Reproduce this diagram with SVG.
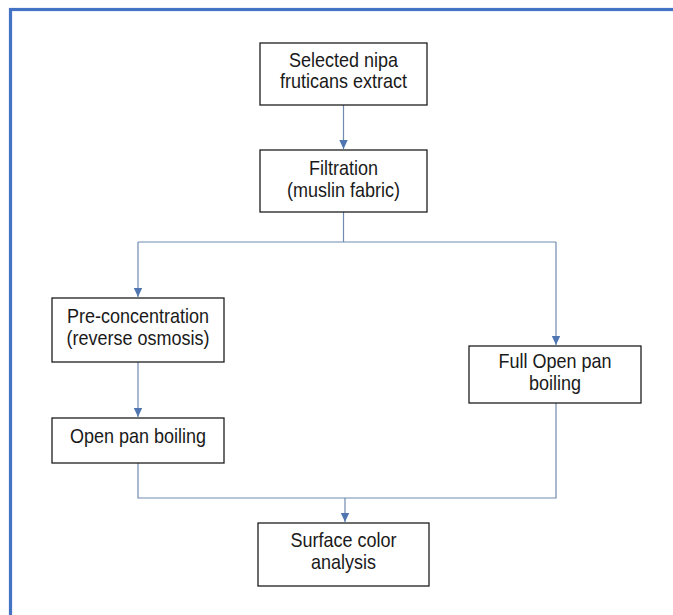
<svg xmlns="http://www.w3.org/2000/svg" width="673" height="615" viewBox="0 0 673 615">
  <style>
    .box { fill: #ffffff; stroke: #1e1e1e; stroke-width: 1.3; }
    .lbl { font-family: "Liberation Sans", Arial, sans-serif; font-size: 20px; fill: #1a1a1a; text-anchor: middle; }
    .conn { fill: none; stroke: #6f8bb0; stroke-width: 1.2; }
  </style>
  <defs>
    <marker id="arrow" markerWidth="10" markerHeight="10" refX="9" refY="5" orient="auto" markerUnits="userSpaceOnUse">
      <path d="M0,0.8 L9,5 L0,9.2 Z" fill="#4f76b0"/>
    </marker>
  </defs>
  <rect x="0" y="0" width="673" height="615" fill="#ffffff"/>
  <rect id="frame" x="10.5" y="9.5" width="700" height="700" fill="none" stroke="#4472c4" stroke-width="3.2"/>

  <g id="connectors">
    <line class="conn" x1="343.5" y1="105" x2="343.5" y2="149" marker-end="url(#arrow)"/>
    <polyline class="conn" points="343.5,212 343.5,242"/>
    <polyline class="conn" points="138,242 556,242"/>
    <line class="conn" x1="138" y1="242" x2="138" y2="297" marker-end="url(#arrow)"/>
    <line class="conn" x1="556" y1="242" x2="556" y2="345" marker-end="url(#arrow)"/>
    <line class="conn" x1="138" y1="362" x2="138" y2="417" marker-end="url(#arrow)"/>
    <polyline class="conn" points="138,463 138,498 556,498 556,403"/>
    <line class="conn" x1="345" y1="498" x2="345" y2="522" marker-end="url(#arrow)"/>
  </g>

  <g id="n1">
    <rect class="box" x="260" y="43" width="167" height="62"/>
    <text class="lbl" transform="translate(343.5,67) scale(0.9,1)">Selected nipa</text>
    <text class="lbl" transform="translate(343.5,88) scale(0.9,1)">fruticans extract</text>
  </g>
  <g id="n2">
    <rect class="box" x="260" y="150" width="167" height="62"/>
    <text class="lbl" transform="translate(343.5,175) scale(0.9,1)">Filtration</text>
    <text class="lbl" transform="translate(343.5,197) scale(0.9,1)">(muslin fabric)</text>
  </g>
  <g id="n3">
    <rect class="box" x="52" y="298" width="172" height="64"/>
    <text class="lbl" transform="translate(138,323) scale(0.9,1)">Pre-concentration</text>
    <text class="lbl" transform="translate(138,345) scale(0.9,1)">(reverse osmosis)</text>
  </g>
  <g id="n4">
    <rect class="box" x="52" y="418" width="172" height="45"/>
    <text class="lbl" transform="translate(138,443) scale(0.9,1)">Open pan boiling</text>
  </g>
  <g id="n5">
    <rect class="box" x="469" y="346" width="172" height="57"/>
    <text class="lbl" transform="translate(555,368) scale(0.9,1)">Full Open pan</text>
    <text class="lbl" transform="translate(555,390) scale(0.9,1)">boiling</text>
  </g>
  <g id="n6">
    <rect class="box" x="258" y="523" width="171" height="63"/>
    <text class="lbl" transform="translate(343.5,547) scale(0.9,1)">Surface color</text>
    <text class="lbl" transform="translate(343.5,569) scale(0.9,1)">analysis</text>
  </g>
</svg>
